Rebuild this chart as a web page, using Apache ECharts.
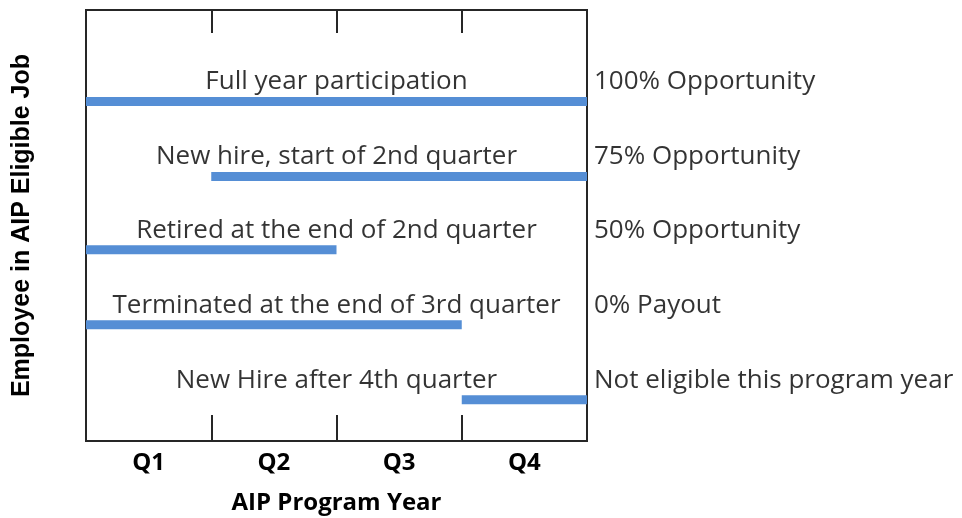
<!DOCTYPE html>
<html><head><meta charset="utf-8">
<script src="https://cdn.jsdelivr.net/npm/echarts@6/dist/echarts.min.js"></script>
<style>html,body{margin:0;padding:0;background:#fff}#c{width:962px;height:518px}</style>
</head><body><div id="c"></div>
<script>
const quarters = ['Q1','Q2','Q3','Q4'];
const caseLabels = ['Full year participation','New hire, start of 2nd quarter','Retired at the end of 2nd quarter','Terminated at the end of 3rd quarter','New Hire after 4th quarter'];
const outcomes = ['100% Opportunity','75% Opportunity','50% Opportunity','0% Payout','Not eligible this program year'];
const startQ = [0,1,0,0,3];
const endQ = [4,4,2,3,4];
const rowPos = [4.53,3.53,2.55,1.55,0.55];

const FONT = 'Open Sans';
const series = [];
caseLabels.forEach((c,i)=>{
  series.push({type:'line', data:[[startQ[i],rowPos[i]],[endQ[i],rowPos[i]]], symbol:'none', silent:true,
    lineStyle:{color:'#558ed5', width:9, cap:'butt'}, z:2});
});
series.push({type:'scatter', symbolSize:0, silent:true, clip:false,
  data: caseLabels.map((c,i)=>({value:[2,rowPos[i]+0.26], name:c})),
  label:{show:true, position:'inside', formatter:p=>p.name, color:'#000', fontFamily:FONT, fontSize:26}});
series.push({type:'scatter', symbolSize:0, silent:true, clip:false,
  data: outcomes.map((c,i)=>({value:[4,rowPos[i]+0.26], name:c})),
  label:{show:true, position:'right', distance:7, formatter:p=>p.name, color:'#000', fontFamily:FONT, fontSize:26}});

const chart = echarts.init(document.getElementById('c'));
chart.setOption({
  animation:false,
  grid:{left:86, top:10, width:501, height:431, show:true, borderColor:'#262626', borderWidth:2, backgroundColor:'transparent', outerBoundsMode:'none', containLabel:false},
  xAxis:[{type:'value', min:0, max:4, position:'bottom',
    splitLine:{show:false},
    axisLine:{show:true, lineStyle:{color:'#262626', width:2}},
    axisTick:{show:true, inside:true, length:26, customValues:[1,2,3], lineStyle:{color:'#262626', width:2}},
    axisLabel:{customValues:[0.5,1.5,2.5,3.5], formatter:v=>quarters[Math.floor(v)], margin:10,
      fontFamily:FONT, fontWeight:'bold', fontSize:24, color:'#000'},
    name:'AIP Program Year', nameLocation:'middle', nameGap:50,
    nameTextStyle:{fontFamily:FONT, fontWeight:'bold', fontSize:24, color:'#000', verticalAlign:'top'}},
   {type:'value', min:0, max:4, position:'top',
    splitLine:{show:false},
    axisLine:{show:true, lineStyle:{color:'#262626', width:2}},
    axisTick:{show:true, inside:true, length:23, customValues:[1,2,3], lineStyle:{color:'#262626', width:2}},
    axisLabel:{show:false}}],
  yAxis:{type:'value', min:0, max:5.75, show:true,
    splitLine:{show:false}, axisLine:{show:false}, axisTick:{show:false}, axisLabel:{show:false},
    name:'Employee in AIP Eligible Job', nameLocation:'middle', nameGap:51, nameRotate:90,
    nameTextStyle:{fontFamily:'Liberation Sans', fontWeight:'bold', fontSize:25, color:'#000'}},
  series: series
});
</script></body></html>
